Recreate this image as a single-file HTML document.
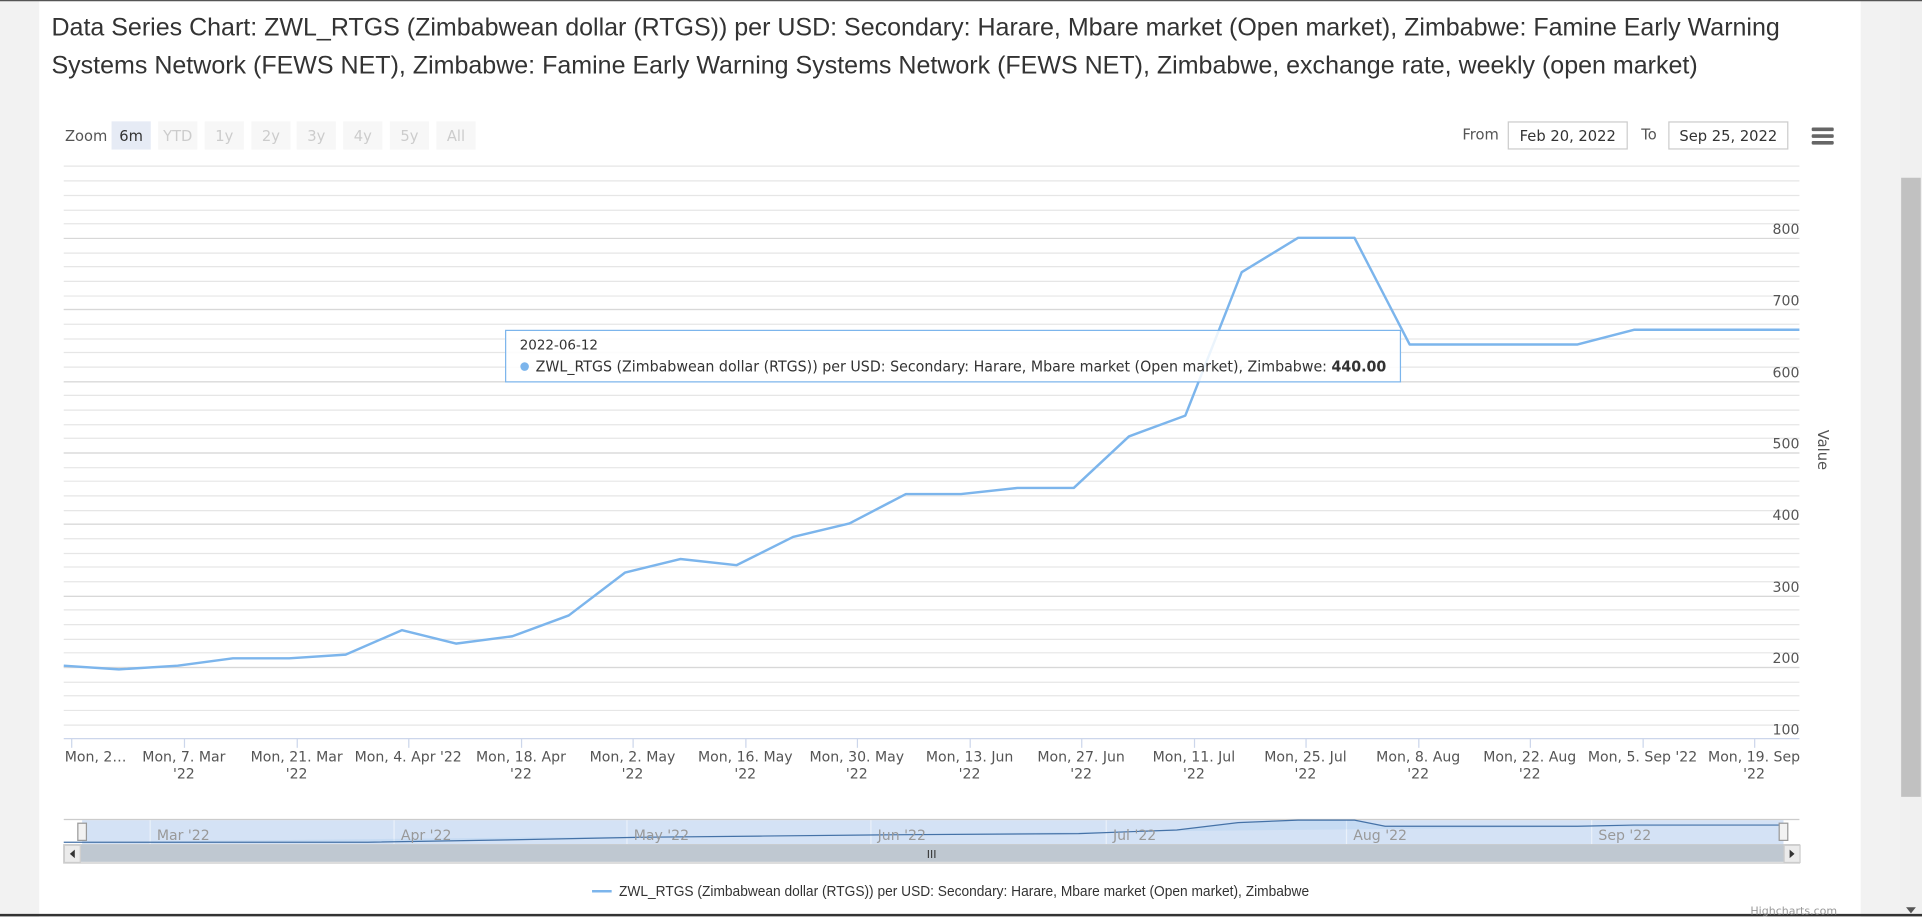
<!DOCTYPE html>
<html><head><meta charset="utf-8"><style>
html,body{margin:0;padding:0;width:1922px;height:917px;overflow:hidden;background:#fff}
svg{display:block}
text{font-family:"DejaVu Sans","Liberation Sans",sans-serif}
</style></head><body>
<svg width="1922" height="917" viewBox="0 0 1568 748" preserveAspectRatio="none" xmlns="http://www.w3.org/2000/svg">
<rect x="0" y="0" width="1568" height="748" fill="#f2f2f2"/>
<rect x="32" y="0" width="1486" height="748" fill="#fff"/>
<rect x="1550" y="0" width="18" height="748" fill="#f0f0f0"/>
<rect x="1551" y="145" width="16" height="505" fill="#c1c1c1"/>
<line x1="0" y1="0.5" x2="1568" y2="0.5" stroke="#555"/>
<line x1="0" y1="746.5" x2="1568" y2="746.5" stroke="#333" stroke-width="2"/>
<g font-size="20.5" fill="#333">
<text x="42" y="29" textLength="1410" lengthAdjust="spacingAndGlyphs" style="font-family:'Liberation Sans',sans-serif">Data Series Chart: ZWL_RTGS (Zimbabwean dollar (RTGS)) per USD: Secondary: Harare, Mbare market (Open market), Zimbabwe: Famine Early Warning</text>
<text x="42" y="60" textLength="1343" lengthAdjust="spacingAndGlyphs" style="font-family:'Liberation Sans',sans-serif">Systems Network (FEWS NET), Zimbabwe: Famine Early Warning Systems Network (FEWS NET), Zimbabwe, exchange rate, weekly (open market)</text>
</g>
<g font-size="12">
<text x="53" y="115" fill="#555">Zoom</text>
<rect x="91" y="99" width="32" height="23" fill="#e6ebf5"/><text x="107" y="115" text-anchor="middle" fill="#333">6m</text>
<rect x="129" y="99" width="32" height="23" fill="#f7f7f7"/><text x="145" y="115" text-anchor="middle" fill="#ccc">YTD</text>
<rect x="167" y="99" width="32" height="23" fill="#f7f7f7"/><text x="183" y="115" text-anchor="middle" fill="#ccc">1y</text>
<rect x="205" y="99" width="32" height="23" fill="#f7f7f7"/><text x="221" y="115" text-anchor="middle" fill="#ccc">2y</text>
<rect x="242" y="99" width="32" height="23" fill="#f7f7f7"/><text x="258" y="115" text-anchor="middle" fill="#ccc">3y</text>
<rect x="280" y="99" width="32" height="23" fill="#f7f7f7"/><text x="296" y="115" text-anchor="middle" fill="#ccc">4y</text>
<rect x="318" y="99" width="32" height="23" fill="#f7f7f7"/><text x="334" y="115" text-anchor="middle" fill="#ccc">5y</text>
<rect x="356" y="99" width="32" height="23" fill="#f7f7f7"/><text x="372" y="115" text-anchor="middle" fill="#ccc">All</text>
<text x="1193" y="114" fill="#555">From</text>
<rect x="1230.5" y="99.5" width="97" height="22" fill="#fff" stroke="#ccc"/><text x="1279" y="115" text-anchor="middle" fill="#333">Feb 20, 2022</text>
<text x="1339" y="114" fill="#555">To</text>
<rect x="1361.5" y="99.5" width="97" height="22" fill="#fff" stroke="#ccc"/><text x="1410" y="115" text-anchor="middle" fill="#333">Sep 25, 2022</text>
</g>
<g fill="#666"><rect x="1478" y="104" width="18" height="3" rx="1"/><rect x="1478" y="109.5" width="18" height="3" rx="1"/><rect x="1478" y="115" width="18" height="3" rx="1"/></g>
<g stroke="#e6e6e6" stroke-width="1">
<line x1="52" x2="1468" y1="135.5" y2="135.5"/><line x1="52" x2="1468" y1="147.5" y2="147.5"/><line x1="52" x2="1468" y1="159.5" y2="159.5"/><line x1="52" x2="1468" y1="171.5" y2="171.5"/><line x1="52" x2="1468" y1="182.5" y2="182.5"/>
<line x1="52" x2="1468" y1="194.5" y2="194.5"/><line x1="52" x2="1468" y1="206.5" y2="206.5"/><line x1="52" x2="1468" y1="217.5" y2="217.5"/><line x1="52" x2="1468" y1="229.5" y2="229.5"/><line x1="52" x2="1468" y1="241.5" y2="241.5"/>
<line x1="52" x2="1468" y1="252.5" y2="252.5"/><line x1="52" x2="1468" y1="264.5" y2="264.5"/><line x1="52" x2="1468" y1="276.5" y2="276.5"/><line x1="52" x2="1468" y1="287.5" y2="287.5"/><line x1="52" x2="1468" y1="299.5" y2="299.5"/>
<line x1="52" x2="1468" y1="311.5" y2="311.5"/><line x1="52" x2="1468" y1="322.5" y2="322.5"/><line x1="52" x2="1468" y1="334.5" y2="334.5"/><line x1="52" x2="1468" y1="346.5" y2="346.5"/><line x1="52" x2="1468" y1="357.5" y2="357.5"/>
<line x1="52" x2="1468" y1="369.5" y2="369.5"/><line x1="52" x2="1468" y1="381.5" y2="381.5"/><line x1="52" x2="1468" y1="392.5" y2="392.5"/><line x1="52" x2="1468" y1="404.5" y2="404.5"/><line x1="52" x2="1468" y1="416.5" y2="416.5"/>
<line x1="52" x2="1468" y1="427.5" y2="427.5"/><line x1="52" x2="1468" y1="439.5" y2="439.5"/><line x1="52" x2="1468" y1="451.5" y2="451.5"/><line x1="52" x2="1468" y1="462.5" y2="462.5"/><line x1="52" x2="1468" y1="474.5" y2="474.5"/>
<line x1="52" x2="1468" y1="486.5" y2="486.5"/><line x1="52" x2="1468" y1="497.5" y2="497.5"/><line x1="52" x2="1468" y1="509.5" y2="509.5"/><line x1="52" x2="1468" y1="521.5" y2="521.5"/><line x1="52" x2="1468" y1="532.5" y2="532.5"/>
<line x1="52" x2="1468" y1="544.5" y2="544.5"/><line x1="52" x2="1468" y1="556.5" y2="556.5"/><line x1="52" x2="1468" y1="567.5" y2="567.5"/><line x1="52" x2="1468" y1="579.5" y2="579.5"/><line x1="52" x2="1468" y1="591.5" y2="591.5"/>
</g>
<g stroke="#d8d8d8"><line x1="52" x2="1468" y1="194.5" y2="194.5"/><line x1="52" x2="1468" y1="252.5" y2="252.5"/><line x1="52" x2="1468" y1="311.5" y2="311.5"/><line x1="52" x2="1468" y1="369.5" y2="369.5"/><line x1="52" x2="1468" y1="427.5" y2="427.5"/><line x1="52" x2="1468" y1="486.5" y2="486.5"/><line x1="52" x2="1468" y1="544.5" y2="544.5"/></g>
<line x1="52" x2="1468" y1="602.5" y2="602.5" stroke="#ccd6eb"/>
<g font-size="11.5" fill="#555" text-anchor="end">
<text x="1468" y="191">800</text><text x="1468" y="249">700</text><text x="1468" y="308">600</text><text x="1468" y="366">500</text><text x="1468" y="424">400</text><text x="1468" y="483">300</text><text x="1468" y="541">200</text><text x="1468" y="599">100</text>
</g>
<text x="1483" y="367" font-size="12" fill="#555" text-anchor="middle" transform="rotate(90 1483 367)">Value</text>
<g stroke="#ccd6eb">
<line x1="58.5" x2="58.5" y1="602" y2="610"/><line x1="150.5" x2="150.5" y1="602" y2="610"/><line x1="242.5" x2="242.5" y1="602" y2="610"/><line x1="333.5" x2="333.5" y1="602" y2="610"/><line x1="425.5" x2="425.5" y1="602" y2="610"/><line x1="516.5" x2="516.5" y1="602" y2="610"/><line x1="608.5" x2="608.5" y1="602" y2="610"/><line x1="699.5" x2="699.5" y1="602" y2="610"/><line x1="791.5" x2="791.5" y1="602" y2="610"/><line x1="882.5" x2="882.5" y1="602" y2="610"/><line x1="974.5" x2="974.5" y1="602" y2="610"/><line x1="1065.5" x2="1065.5" y1="602" y2="610"/><line x1="1157.5" x2="1157.5" y1="602" y2="610"/><line x1="1248.5" x2="1248.5" y1="602" y2="610"/><line x1="1340.5" x2="1340.5" y1="602" y2="610"/><line x1="1431.5" x2="1431.5" y1="602" y2="610"/>
</g>
<g font-size="11.5" fill="#555" text-anchor="middle">
<text x="78" y="621">Mon, 2…</text>
<text x="150" y="621">Mon, 7. Mar</text><text x="150" y="635">'22</text>
<text x="242" y="621">Mon, 21. Mar</text><text x="242" y="635">'22</text>
<text x="333" y="621">Mon, 4. Apr '22</text>
<text x="425" y="621">Mon, 18. Apr</text><text x="425" y="635">'22</text>
<text x="516" y="621">Mon, 2. May</text><text x="516" y="635">'22</text>
<text x="608" y="621">Mon, 16. May</text><text x="608" y="635">'22</text>
<text x="699" y="621">Mon, 30. May</text><text x="699" y="635">'22</text>
<text x="791" y="621">Mon, 13. Jun</text><text x="791" y="635">'22</text>
<text x="882" y="621">Mon, 27. Jun</text><text x="882" y="635">'22</text>
<text x="974" y="621">Mon, 11. Jul</text><text x="974" y="635">'22</text>
<text x="1065" y="621">Mon, 25. Jul</text><text x="1065" y="635">'22</text>
<text x="1157" y="621">Mon, 8. Aug</text><text x="1157" y="635">'22</text>
<text x="1248" y="621">Mon, 22. Aug</text><text x="1248" y="635">'22</text>
<text x="1340" y="621">Mon, 5. Sep '22</text>
<text x="1431" y="621">Mon, 19. Sep</text><text x="1431" y="635">'22</text>
</g>
<polyline fill="none" stroke="#7cb5ec" stroke-width="2" stroke-linejoin="round" points="52,543 97,546 145,543 190,537 236,537 282,534 328,514 372,525 418,519 464,502 510,467 555,456 601,461 647,438 693,427 739,403 784,403 830,398 876,398 921,356 967,339 1013,222 1059,194 1105,194 1150,281 1196,281 1242,281 1287,281 1333,269 1379,269 1425,269 1468,269"/>
<rect x="412.5" y="269.5" width="730" height="42" fill="#fff" fill-opacity="0.85" stroke="#7cb5ec"/>
<text x="424" y="285" font-size="11" fill="#333">2022-06-12</text>
<circle cx="428" cy="299" r="3.5" fill="#7cb5ec"/>
<text x="437" y="303" font-size="12" fill="#333" textLength="694" lengthAdjust="spacingAndGlyphs">ZWL_RTGS (Zimbabwean dollar (RTGS)) per USD: Secondary: Harare, Mbare market (Open market), Zimbabwe: <tspan font-weight="bold">440.00</tspan></text>
<rect x="52" y="668" width="1416" height="21" fill="#fff"/>
<rect x="67" y="669" width="1388" height="20" fill="#d4e2f5"/>
<line x1="52" x2="1468" y1="668.5" y2="668.5" stroke="#ccc"/>
<g stroke="#fff" stroke-opacity="0.5"><line x1="122.5" x2="122.5" y1="669" y2="689"/><line x1="321.5" x2="321.5" y1="669" y2="689"/><line x1="511.5" x2="511.5" y1="669" y2="689"/><line x1="710.5" x2="710.5" y1="669" y2="689"/><line x1="902.5" x2="902.5" y1="669" y2="689"/><line x1="1098.5" x2="1098.5" y1="669" y2="689"/><line x1="1298.5" x2="1298.5" y1="669" y2="689"/></g>
<polyline fill="rgba(124,181,236,0.15)" stroke="#4572a7" stroke-width="1" points="52,687 300,687 420,685 520,683 620,682 720,681 880,680 960,677 1010,671 1059,669 1105,669 1130,674 1287,674 1333,673 1455,673"/>
<g font-size="11.5" fill="#999"><text x="128" y="685">Mar '22</text><text x="327" y="685">Apr '22</text><text x="517" y="685">May '22</text><text x="716" y="685">Jun '22</text><text x="908" y="685">Jul '22</text><text x="1104" y="685">Aug '22</text><text x="1304" y="685">Sep '22</text></g>
<rect x="63.5" y="671.5" width="7" height="14" fill="#f2f2f2" stroke="#999"/>
<rect x="1451.5" y="671.5" width="7" height="14" fill="#f2f2f2" stroke="#999"/>
<rect x="52" y="689" width="1416" height="15" fill="#f2f2f2" stroke="#ccc"/>
<rect x="66" y="689" width="1389" height="14" fill="#bfc8d1"/>
<text x="760" y="700" font-size="9" fill="#333" text-anchor="middle">III</text>
<rect x="52.5" y="689.5" width="13" height="14" fill="#ebebeb" stroke="#ccc"/><path d="M61 693 L57 696.5 L61 700Z" fill="#333"/>
<rect x="1455.5" y="689.5" width="13" height="14" fill="#ebebeb" stroke="#ccc"/><path d="M1460 693 L1464 696.5 L1460 700Z" fill="#333"/>
<line x1="483" x2="499" y1="727" y2="727" stroke="#7cb5ec" stroke-width="2"/>
<text x="505" y="731" font-size="12" fill="#333" textLength="563" lengthAdjust="spacingAndGlyphs" style="font-family:'Liberation Sans',sans-serif">ZWL_RTGS (Zimbabwean dollar (RTGS)) per USD: Secondary: Harare, Mbare market (Open market), Zimbabwe</text>
<text x="1428" y="746" font-size="9" fill="#999">Highcharts.com</text>
<path d="M1555 740 L1563 740 L1559 745Z" fill="#555"/>
</svg>
</body></html>
